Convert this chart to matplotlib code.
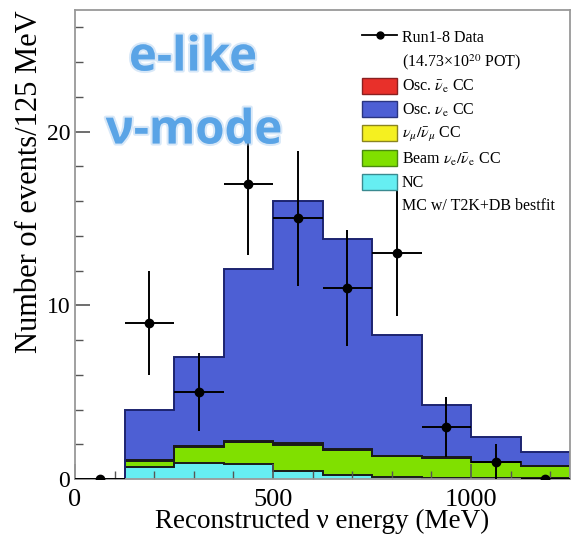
import matplotlib.pyplot as plt
import matplotlib.patheffects as pe
from matplotlib.patches import Patch
from matplotlib.lines import Line2D
from matplotlib.ticker import MultipleLocator

plt.rcParams['font.family'] = ['Liberation Serif', 'DejaVu Serif']
plt.rcParams['mathtext.fontset'] = 'stix'

# bins of 125 MeV
edges = [0, 125, 250, 375, 500, 625, 750, 875, 1000, 1125, 1250]

# MC components (stacked, bottom to top)
nc = [0, 0.70, 0.93, 0.86, 0.48, 0.25, 0.10, 0.05, 0.04, 0.03]
beam_nue = [0, 0.35, 0.92, 1.26, 1.49, 1.40, 1.20, 1.15, 0.91, 0.69]
numu = [0, 0.02, 0.03, 0.03, 0.02, 0.02, 0.01, 0.01, 0.01, 0.01]
osc_nuebar = [0, 0.02, 0.04, 0.06, 0.07, 0.06, 0.04, 0.03, 0.02, 0.02]
osc_nue = [0, 2.91, 5.08, 9.89, 13.94, 12.07, 6.95, 3.01, 1.42, 0.80]

# data
data_x = [62.5, 187.5, 312.5, 437.5, 562.5, 687.5, 812.5, 937.5, 1062.5, 1187.5]
data_n = [0, 9, 5, 17, 15, 11, 13, 3, 1, 0]
data_err = [0, 3.0, 2.24, 4.12, 3.87, 3.32, 3.61, 1.73, 1.0, 0]

comps = [(nc, '#66eef2'), (beam_nue, '#80e000'), (numu, '#f5f020'),
         (osc_nuebar, '#e8302a'), (osc_nue, '#4d5fd4')]

fig = plt.figure(figsize=(5.72, 5.38), dpi=100)
ax = fig.add_axes([75/572, 1-479/538, (570-75)/572, (479-10)/538])

base = [0]*10
tops = []
for vals, col in comps:
    top = [b + v for b, v in zip(base, vals)]
    ax.stairs(top, edges, baseline=base, fill=True, color=col, lw=0)
    tops.append(top)
    base = top
for i, top in enumerate(tops):
    lc = '#1c2470' if i == len(tops)-1 else '#1a1a1a'
    ax.stairs(top, edges, baseline=0, fill=False, color=lc, lw=1.4)

ax.errorbar(data_x, data_n, yerr=data_err, xerr=62.5, fmt='o', color='k',
            ms=6, lw=1.4, capsize=0, zorder=5)

ax.set_xlim(0, 1250)
ax.set_ylim(0, 27)
ax.set_xticks([0, 500, 1000])
ax.set_yticks([0, 10, 20])
ax.xaxis.set_minor_locator(MultipleLocator(100))
ax.yaxis.set_minor_locator(MultipleLocator(2))
ax.tick_params(which='both', direction='in', top=False, right=False,
               color='#555555', labelsize=17)
ax.tick_params(axis='x', labelsize=19, pad=7)
ax.tick_params(which='major', length=11, width=1.2)
ax.tick_params(which='minor', length=6, width=1.0)
for s in ax.spines.values():
    s.set_color('#999999')
    s.set_linewidth(1.3)

ax.set_xlabel('Reconstructed ν energy (MeV)', fontsize=19.5)
ax.xaxis.set_label_coords(0.5, (479-509)/469)
ax.set_ylabel('Number of events/125 MeV', fontsize=22, labelpad=2, loc='top')

handles = [
    Line2D([], [], color='k', marker='o', ms=5, lw=1.3),
    Line2D([], [], color='none'),
    Patch(facecolor='#e8302a', edgecolor='#8a2020'),
    Patch(facecolor='#4d5fd4', edgecolor='#2a3580'),
    Patch(facecolor='#f5f020', edgecolor='#8a8420'),
    Patch(facecolor='#80e000', edgecolor='#4a8a10'),
    Patch(facecolor='#66eef2', edgecolor='#3a8a90'),
    Line2D([], [], color='none'),
]
labels = [
    'Run1-8 Data',
    '(14.73×10$^{20}$ POT)',
    r'Osc. $\bar{\nu}_\mathrm{e}$ CC',
    r'Osc. $\nu_\mathrm{e}$ CC',
    r'$\nu_\mu/\bar{\nu}_\mu$ CC',
    r'Beam $\nu_\mathrm{e}/\bar{\nu}_\mathrm{e}$ CC',
    'NC',
    'MC w/ T2K+DB bestfit',
]
ax.legend(handles, labels, loc='upper left', bbox_to_anchor=(356/572, 1-22/538),
          bbox_transform=fig.transFigure, frameon=False, fontsize=11.5,
          labelspacing=0.38, handlelength=2.15, handleheight=1.15,
          handletextpad=0.3, borderaxespad=0)

glow = [pe.withStroke(linewidth=3, foreground='#a9cdf0', alpha=0.45)]
fig.text(193/572, 1-58/538, 'e-like', fontfamily='Open Sans', fontweight='bold',
         fontsize=34, color='#5aa4e6', ha='center', va='center', path_effects=glow)
fig.text(194/572, 1-131/538, 'ν-mode', fontfamily='Open Sans', fontweight='bold',
         fontsize=34, color='#5aa4e6', ha='center', va='center', path_effects=glow)

fig.savefig('out.png', dpi=100)
